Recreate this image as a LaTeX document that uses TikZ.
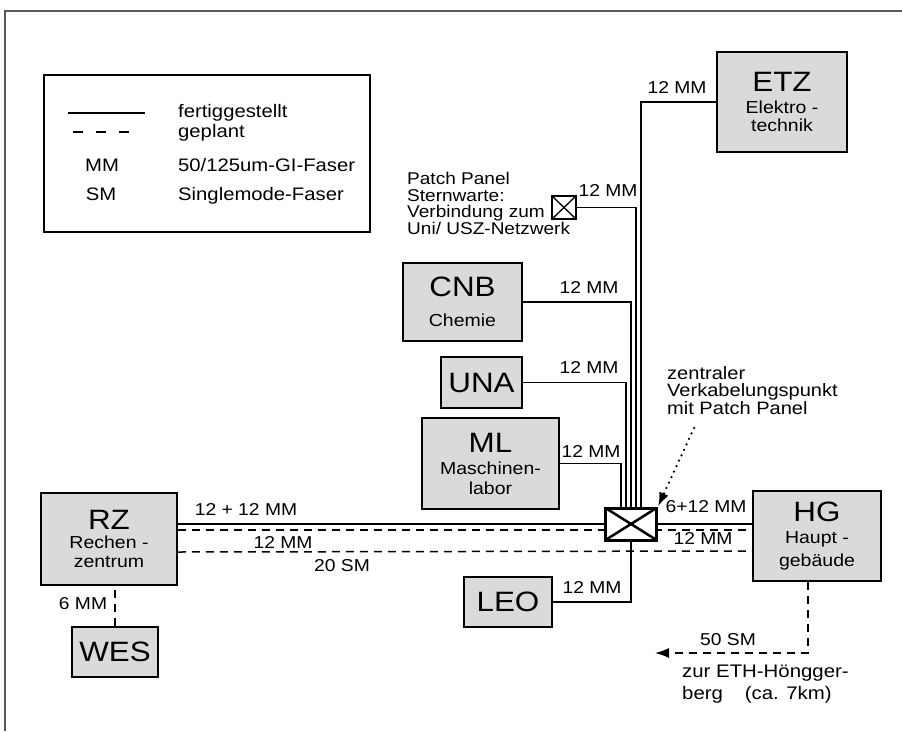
\documentclass[tikz,border=0pt]{standalone}
\usepackage{fontspec}
\setmainfont{Liberation Sans}[FakeStretch=1.12]
\usetikzlibrary{arrows.meta,positioning,calc,backgrounds}
\definecolor{cstip}{HTML}{DADADA}
\definecolor{cframe}{HTML}{5A5A5A}
\newcommand{\bname}[1]{{\fontsize{28}{28}\selectfont #1}}

\begin{document}
\begin{tikzpicture}[x=1pt, y=-1pt,
  bldg/.style={draw, line width=1.8pt, fill=cstip, inner sep=0pt, align=center,
               font=\fontsize{17.4}{20}\selectfont},
  panel/.style={draw, fill=white, line width=3pt, inner sep=0pt,
                path picture={\draw[line width=#1]
                  (path picture bounding box.north west) -- (path picture bounding box.south east)
                  (path picture bounding box.south west) -- (path picture bounding box.north east);}},
  panel/.default=2.5pt,
  lbl/.style={font=\fontsize{17.2}{18}\selectfont, inner sep=0pt},
  note/.style={font=\fontsize{17}{16.5}\selectfont, inner sep=0pt, align=left},
  leg/.style={font=\fontsize{18.1}{20}\selectfont, inner sep=0pt},
  ln/.style={line width=1.5pt},
  plan/.style={line width=1.5pt, dash pattern=on 8pt off 6pt},
  ptr/.style={line width=2.5pt, line cap=round, dash pattern=on 0pt off 6pt,
              -{Latex[length=14pt,width=10pt]}},
  etharr/.style={plan, -{Latex[length=14pt,width=10pt]}},
]
\useasboundingbox (0,0) rectangle (902,731);

%% ---------- frame and legend ----------
\draw[line width=1.2pt, draw=cframe] (5,731) -- (5,11) -- (902,11);
\node[draw, line width=2pt, minimum width=326pt, minimum height=157pt] (legend) at (207,153.5) {};
\draw[line width=2pt] (68,113) -- (145,113);
\draw[line width=2pt, dash pattern=on 10pt off 13pt] (73,132) -- (130,132);
\node[leg, anchor=base west] (lgdone) at (178,117) {fertiggestellt};
\node[leg, anchor=base west] (lgplan) at (178,137) {geplant};
\node[leg, anchor=base] (lgmm) at (102,171) {MM};
\node[leg, anchor=base west] (lgmmtxt) at (178,171) {50/125um-GI-Faser};
\node[leg, anchor=base] (lgsm) at (101,200) {SM};
\node[leg, anchor=base west] (lgsmtxt) at (178,200) {Singlemode-Faser};

%% ---------- buildings ----------
\node[bldg, minimum width=130pt, minimum height=100pt] (ETZ) at (782,102)
  {\bname{ETZ}\\[2pt]Elektro -\\[-2pt]technik};
\node[bldg, minimum width=119pt, minimum height=78pt] (CNB) at (462.5,302)
  {\bname{CNB}\\[10pt]Chemie};
\node[bldg, minimum width=81pt, minimum height=51pt] (UNA) at (481.5,382.5) {\bname{UNA}};
\node[bldg, minimum width=137pt, minimum height=91pt] (ML) at (490.5,463.5)
  {\bname{ML}\\[2pt]Maschinen-\\labor};
\node[bldg, minimum width=136pt, minimum height=92pt] (RZ) at (109,539)
  {\bname{RZ}\\[-1pt]Rechen -\\[-1pt]zentrum};
\node[bldg, minimum width=86pt, minimum height=50pt] (WES) at (115,652) {\bname{WES}};
\node[bldg, minimum width=128pt, minimum height=90pt] (HG) at (817,536)
  {\bname{HG}\\[2pt]Haupt -\\[3pt]gebäude};
\node[bldg, minimum width=88pt, minimum height=50pt] (LEO) at (508,602) {\bname{LEO}};

%% ---------- patch panels ----------
\node[panel, minimum width=51pt, minimum height=32pt] (hub) at (631,524) {};
\node[panel=1.3pt, line width=1.5pt, minimum width=24pt, minimum height=23pt] (star) at (564,207.5) {};

\node[note, anchor=north west] (sternw) at (407,172)
  {Patch Panel\\Sternwarte:\\Verbindung zum\\Uni/ USZ-Netzwerk};
\node[note, anchor=north west, font=\fontsize{17.9}{17.5}\selectfont] (zent) at (667,366)
  {zentraler\\Verkabelungspunkt\\mit Patch Panel};
\node[note, anchor=north west, font=\fontsize{18.2}{22}\selectfont] (ethtxt) at (682,665)
  {zur ETH-Höngger-\\berg\hspace{1.2em}(ca. 7km)};

\coordinate (zk) at (694,428);
\coordinate (eth) at (655,653);

%% ---------- cable labels ----------
\node[lbl] (lETZ) at (677,87) {12 MM};
\node[lbl] (lSTAR) at (608,190) {12 MM};
\node[lbl] (lCNB) at (589,287) {12 MM};
\node[lbl] (lUNA) at (589,367) {12 MM};
\node[lbl] (lML) at (591,451) {12 MM};
\node[lbl] (lRZa) at (246,509) {12 + 12 MM};
\node[lbl] (lRZb) at (283,542) {12 MM};
\node[lbl] (lRZc) at (342,566) {20 SM};
\node[lbl] (lHGa) at (706,507) {6+12 MM};
\node[lbl] (lHGb) at (703,538) {12 MM};
\node[lbl] (lLEO) at (592,587) {12 MM};
\node[lbl] (lWES) at (83,604) {6 MM};
\node[lbl] (lETH) at (728,640) {50 SM};

%% ---------- cables ----------
\begin{scope}[on background layer]
  \draw[ln] (ETZ.west) -| ($(hub.north)+(10,0)$);
  \draw[ln] (star.east) -| ($(hub.north)+(5,0)$);
  \draw[ln] (CNB.east) -| (hub.north);
  \draw[ln] (UNA.east) -| ($(hub.north)+(-5,0)$);
  \draw[ln] (ML.east) -| ($(hub.north)+(-10,0)$);
  \draw[ln] (LEO.east) -| (hub.south);
  \draw[ln] (RZ.east |- hub.west) -- (hub.west);
  \draw[ln] (hub.east) -- (HG.west |- hub.east);
  \draw[plan] ($(RZ.east)+(0,-9)$) -- ($(HG.west)+(0,-6)$);
  \draw[plan] ($(RZ.east)+(0,13)$) -- ($(HG.west)+(0,15)$);
  \draw[plan] (WES.north) -- (WES.north |- RZ.south);
  \draw[etharr] ($(HG.south)+(-9,0)$) |- (eth);
\end{scope}
\draw[ptr] (zk) -- (hub.north east);

\end{tikzpicture}
\end{document}
